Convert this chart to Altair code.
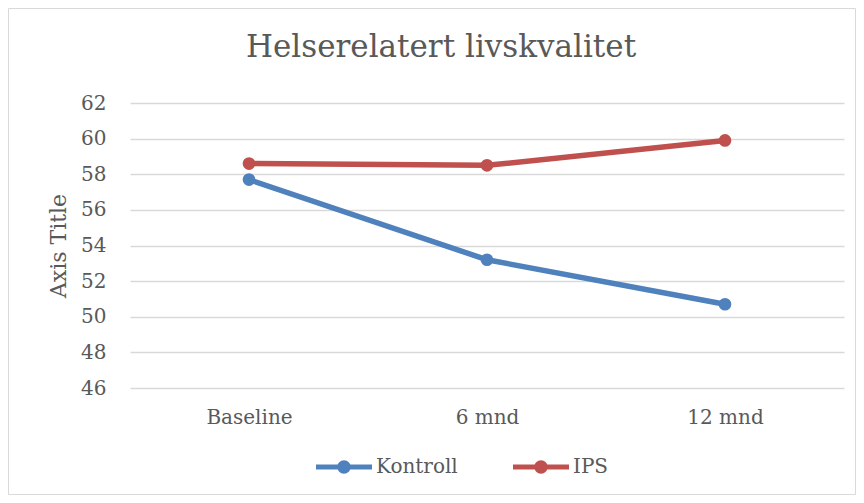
import altair as alt
import pandas as pd

categories = ["Baseline", "6 mnd", "12 mnd"]
kontroll = [57.7, 53.2, 50.7]
ips = [58.6, 58.5, 59.9]
series = ["Kontroll", "IPS"]
colors = ["#4F81BD", "#C0504D"]
y_ticks = [46, 48, 50, 52, 54, 56, 58, 60, 62]
chart_title = "Helserelatert livskvalitet"

rows = []
for s, vals in zip(series, [kontroll, ips]):
    for c, v in zip(categories, vals):
        rows.append({"tid": c, "verdi": v, "gruppe": s})
df = pd.DataFrame(rows)

FONT = "DejaVu Serif"
GREY = "#595959"
W, H = 714, 285
PL, PT, PR, PB = 122, 95, 12, 107

legend_path = ("M-1,-0.085 H-0.2 V0.085 H-1 Z "
               "M0.2,-0.085 H1 V0.085 H0.2 Z "
               "M0,-0.24 A0.24,0.24 0 1,1 0,0.24 A0.24,0.24 0 1,1 0,-0.24 Z")

color = alt.Color(
    "gruppe:N",
    scale=alt.Scale(domain=series, range=colors),
    legend=alt.Legend(
        title=None,
        orient="none",
        direction="horizontal",
        columns=2,
        legendX=186,
        legendY=336,
        symbolType=legend_path,
        symbolSize=3136,
        symbolStrokeWidth=0,
        symbolOpacity=1,
        labelFont=FONT,
        labelFontSize=20,
        labelColor=GREY,
        labelOffset=4,
        columnPadding=55,
    ),
)

x = alt.X(
    "tid:N",
    sort=categories,
    scale=alt.Scale(domain=categories),
    axis=alt.Axis(
        title=None, domain=False, ticks=False, grid=False, labelAngle=0,
        labelFont=FONT, labelFontSize=20, labelColor=GREY, labelPadding=19,
    ),
)
y = alt.Y(
    "verdi:Q",
    scale=alt.Scale(domain=[46, 62], nice=False, zero=False),
    axis=alt.Axis(
        title="Axis Title", values=y_ticks, domain=False, ticks=False,
        grid=True, gridColor="#d9d9d9", gridWidth=1.5,
        labelFont=FONT, labelFontSize=20, labelColor=GREY, labelPadding=24,
        titleFont=FONT, titleFontSize=22, titleColor=GREY, titleFontWeight="normal",
        titleX=-72, titleY=H / 2, titleAngle=-90, titleBaseline="middle",
        titleAlign="center",
    ),
)

base = alt.Chart(df)
lines = base.mark_line(strokeWidth=5.5).encode(x=x, y=y, color=color, detail="gruppe:N")
points = base.mark_point(filled=True, size=160, opacity=1).encode(x=x, y=y, color=color)

border = alt.Chart(pd.DataFrame({"a": [0]})).mark_rect(
    fill=None, stroke="#d9d9d9", strokeWidth=1
).encode(
    x=alt.value(-PL + 0.5), x2=alt.value(W + PR - 0.5),
    y=alt.value(-PT + 0.5), y2=alt.value(H + PB - 0.5),
)

title = alt.Chart(pd.DataFrame({"t": [chart_title]})).mark_text(
    font=FONT, fontSize=31, color=GREY, align="center", baseline="middle"
).encode(text="t:N", x=alt.value(441 - 130), y=alt.value(48 - 103))

chart = alt.layer(border, lines, points, title).properties(
    width=W,
    height=H,
    autosize=alt.AutoSizeParams(type="none"),
    padding={"left": PL, "top": PT, "right": PR, "bottom": PB},
).configure(background="white").configure_view(stroke=None, strokeWidth=0)

chart.save("out.html", embed_options={"renderer": "svg", "actions": False})
